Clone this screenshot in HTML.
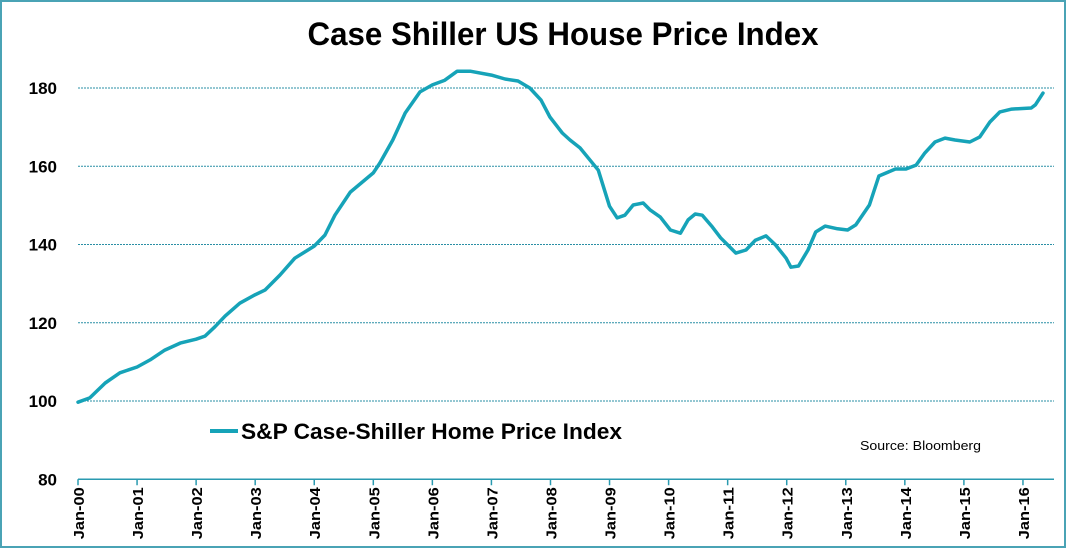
<!DOCTYPE html>
<html><head><meta charset="utf-8"><style>
html,body{margin:0;padding:0;background:#fff;}
svg{display:block;font-family:"Liberation Sans",sans-serif;}
</style></head><body>
<svg id="c" width="1066" height="548" viewBox="0 0 1066 548">
<rect x="1" y="1" width="1064" height="546" fill="#fff" stroke="#4aa3b5" stroke-width="2"/>
<text x="563" y="45" text-anchor="middle" font-size="32" font-weight="bold" textLength="511" lengthAdjust="spacingAndGlyphs" fill="#000">Case Shiller US House Price Index</text>
<g id="grid"></g><g id="axes"></g><g id="series"></g>
<line x1="210" y1="431" x2="238" y2="431" stroke="#16a3b8" stroke-width="4"/>
<text x="241" y="439" font-size="22" font-weight="bold" textLength="381" lengthAdjust="spacingAndGlyphs" fill="#000">S&amp;P Case-Shiller Home Price Index</text>
<text x="860" y="450" font-size="13" textLength="121" lengthAdjust="spacingAndGlyphs" fill="#000">Source: Bloomberg</text>
</svg>
<script>
const yTicks=[80,100,120,140,160,180];
const xLabels=["Jan-00","Jan-01","Jan-02","Jan-03","Jan-04","Jan-05","Jan-06","Jan-07","Jan-08","Jan-09","Jan-10","Jan-11","Jan-12","Jan-13","Jan-14","Jan-15","Jan-16"];
const dates=[0,0.2,0.46,0.71,1.0,1.22,1.47,1.73,2.0,2.15,2.32,2.49,2.74,2.99,3.17,3.42,3.67,4.0,4.18,4.35,4.61,5.0,5.11,5.33,5.54,5.79,6.0,6.21,6.42,6.64,7.0,7.23,7.45,7.65,7.84,7.99,8.2,8.33,8.5,8.81,9.0,9.13,9.26,9.4,9.57,9.69,9.86,10.03,10.2,10.33,10.45,10.57,10.74,10.88,11.0,11.14,11.31,11.47,11.65,11.81,11.99,12.07,12.2,12.36,12.49,12.65,12.86,13.03,13.17,13.4,13.56,13.84,14.02,14.19,14.34,14.51,14.68,14.85,15.1,15.27,15.44,15.61,15.81,16.14,16.21,16.34];
const values=[99.7,100.8,104.6,107.2,108.7,110.5,113,114.8,115.8,116.6,119,121.7,125,127.1,128.4,132.2,136.5,139.6,142.4,147.5,153.4,158.3,160.8,166.7,173.6,179,180.8,182,184.3,184.3,183.3,182.3,181.8,180,176.9,172.6,168.5,166.7,164.7,159,149.8,146.8,147.5,150.1,150.6,148.8,147,143.7,142.9,146.3,147.8,147.5,144.5,141.7,139.9,137.8,138.6,141.1,142.2,139.9,136.5,134.2,134.5,138.6,143.2,144.7,144,143.7,145,150.1,157.5,159.3,159.3,160.3,163.4,166.2,167.2,166.7,166.2,167.5,171.3,173.9,174.6,174.9,175.7,178.7];
const NS="http://www.w3.org/2000/svg";
const X0=78,XS=59.06,Y0=401,YS=78.25/20;
function xs(t){return X0+t*XS;}
function ys(v){return Y0-(v-100)*YS;}
function mk(tag,attrs,parent){const e=document.createElementNS(NS,tag);for(const k in attrs)e.setAttribute(k,attrs[k]);document.getElementById(parent).appendChild(e);return e;}
yTicks.forEach(v=>{
  if(v>80){const g=mk('line',{x1:X0,x2:1054,y1:ys(v),y2:ys(v),stroke:'#2a8fa5','stroke-width':1,'stroke-dasharray':'2,1'},'grid');
  
  }
  const t=mk('text',{x:57,y:ys(v)+6,'text-anchor':'end','font-size':17,'font-weight':'bold',fill:'#000'},'axes');
  t.textContent=v;
  
  
});
const ax=mk('line',{x1:X0,x2:1054,y1:ys(80),y2:ys(80),stroke:'#2a9ab0','stroke-width':1.5},'axes');


xLabels.forEach((l,i)=>{
  const x=xs(i);
  const tk=mk('line',{x1:x,x2:x,y1:ys(80),y2:ys(80)+6,stroke:'#2a9ab0','stroke-width':1.5},'axes');
  
  
  const t=mk('text',{x:0,y:0,'text-anchor':'end','font-size':15,'font-weight':'bold',fill:'#000',textLength:52,lengthAdjust:'spacingAndGlyphs',transform:`translate(${x+6},${ys(80)+8}) rotate(-90)`},'axes');
  t.textContent=l;
  
  
});
let d='';
dates.forEach((t,i)=>{d+=(i?'L':'M')+xs(t).toFixed(1)+','+ys(values[i]).toFixed(1);});
const p=mk('path',{d:d,fill:'none',stroke:'#16a3b8','stroke-width':3.5,'stroke-linejoin':'round','stroke-linecap':'round'},'series');


</script>
</body></html>
